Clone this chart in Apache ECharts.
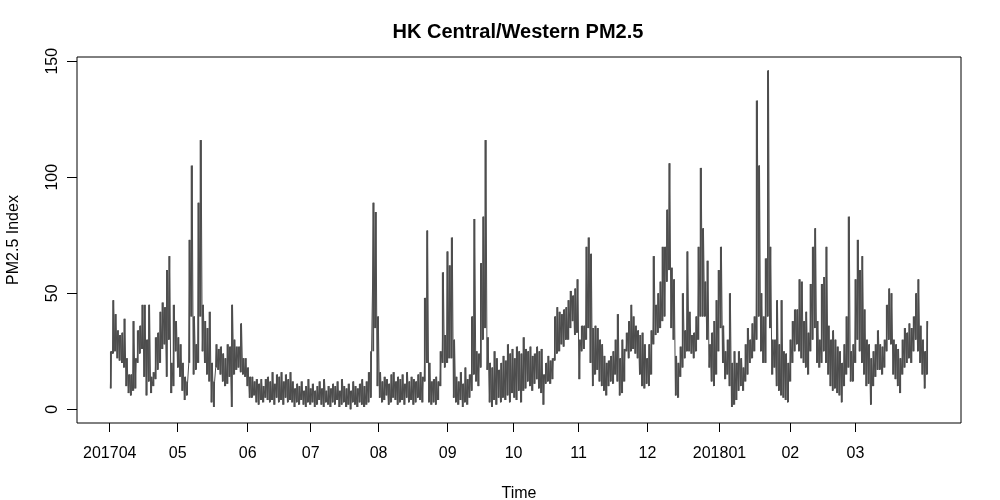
<!DOCTYPE html>
<html>
<head>
    <meta charset="utf-8">
    <title>index</title>
    <style>
        html, body { margin: 0; padding: 0; background: #fff; }
        #container { width: 1000px; height: 500px; }
    </style>
</head>
<body>
    <div id="container"></div>
</body>
<script src="https://cdn.jsdelivr.net/npm/echarts@6/dist/echarts.min.js"></script>
<script type="text/javascript">
    // month tick positions on the day axis (day 0 = 2017-04-01) and their labels
    var monthTicks = [0, 30.3, 61.5, 89.6, 119.9, 150.7, 180.1, 209.1, 239.8, 271.9, 303.5, 332.5];
    var monthLabels = ['201704', '05', '06', '07', '08', '09', '10', '11', '12', '201801', '02', '03'];
    var yTicks = [0, 50, 100, 150];

    // daily low / high of the hourly PM2.5 index
    var dailyLow = [
        9, 24, 25, 22, 21, 20, 18, 10, 7, 6,
        8, 9, 20, 24, 26, 14, 6, 12, 7, 10,
        13, 17, 20, 26, 28, 14, 30, 7, 10, 25,
        18, 14, 8, 4, 6, 20, 40, 15, 17, 20,
        40, 25, 20, 15, 12, 3, 1, 18, 17, 15,
        12, 10, 11, 14, 1, 15, 17, 18, 16, 15,
        14, 10, 5, 5, 6, 3, 2, 4, 3, 5,
        4, 3, 4, 2, 5, 3, 4, 2, 5, 3,
        4, 3, 1, 3, 2, 4, 2, 1, 3, 2,
        3, 1, 2, 4, 2, 1, 3, 2, 1, 3,
        2, 4, 1, 2, 3, 1, 2, 0, 3, 2,
        1, 3, 2, 1, 2, 3, 5, 25, 35, 10,
        5, 3, 4, 6, 2, 3, 5, 4, 2, 3,
        4, 2, 5, 3, 4, 2, 3, 5, 4, 3,
        12, 20, 3, 2, 3, 2, 4, 10, 20, 18,
        20, 22, 22, 5, 3, 2, 4, 1, 3, 2,
        5, 8, 15, 12, 10, 18, 30, 35, 17, 3,
        1, 4, 2, 5, 3, 5, 4, 6, 3, 7,
        5, 4, 8, 3, 8, 9, 12, 10, 8, 11,
        13, 9, 7, 2, 11, 12, 11, 13, 21, 24,
        25, 28, 27, 30, 30, 35, 38, 32, 33, 13,
        25, 26, 30, 35, 20, 10, 15, 17, 12, 10,
        8, 6, 10, 12, 11, 15, 12, 6, 7, 12,
        25, 22, 25, 26, 24, 22, 15, 10, 9, 11,
        10, 15, 28, 32, 33, 35, 38, 40, 55, 60,
        35, 30, 6, 5, 14, 18, 22, 25, 25, 24,
        22, 25, 30, 40, 40, 40, 30, 18, 12, 10,
        15, 25, 35, 20, 13, 15, 10, 1, 2, 4,
        8, 10, 8, 12, 15, 20, 22, 25, 30, 40,
        25, 20, 20, 40, 35, 15, 18, 10, 8, 6,
        5, 4, 3, 12, 20, 25, 28, 25, 22, 20,
        18, 15, 25, 30, 35, 20, 18, 20, 25, 20,
        15, 10, 8, 9, 7, 6, 3, 10, 15, 18,
        12, 12, 20, 30, 25, 20, 15, 10, 11, 2,
        10, 14, 17, 17, 15, 18, 25, 30, 28, 15,
        13, 10, 7, 15, 18, 20, 22, 20, 25, 30,
        25, 20, 15, 9, 15
    ];
    var dailyHigh = [
        25, 47, 41, 34, 32, 33, 39, 22, 15, 15,
        38, 22, 34, 36, 45, 45, 30, 45, 14, 16,
        31, 33, 42, 46, 44, 60, 66, 20, 45, 38,
        31, 28, 20, 14, 12, 73, 105, 40, 28, 89,
        116, 45, 38, 35, 42, 20, 12, 28, 26, 27,
        24, 22, 28, 27, 45, 30, 27, 27, 37, 22,
        22, 18, 14, 14, 12, 13, 11, 13, 10, 13,
        14, 12, 16, 11, 15, 14, 16, 12, 15, 13,
        16, 12, 9, 11, 10, 12, 8, 10, 13, 9,
        11, 8, 10, 12, 9, 13, 8, 10, 9, 11,
        10, 12, 8, 13, 10, 9, 11, 8, 12, 10,
        9, 11, 13, 10, 12, 16, 25, 89, 85, 40,
        16, 12, 14, 13, 11, 15, 16, 12, 14, 13,
        15, 11, 16, 12, 14, 13, 12, 15, 16, 14,
        48, 77, 20, 12, 13, 14, 12, 25, 59, 32,
        68, 62, 74, 30, 14, 12, 16, 11, 18, 13,
        15, 40, 82, 25, 24, 63, 83, 116, 31, 20,
        18, 25, 22, 17, 20, 23, 21, 28, 24, 26,
        22, 27, 25, 24, 31, 26, 25, 27, 23, 24,
        27, 25, 26, 15, 20, 23, 21, 22, 40, 44,
        42, 41, 43, 44, 47, 51, 49, 52, 56, 30,
        36, 36, 70, 74, 67, 35, 36, 35, 30, 28,
        23, 20, 21, 23, 25, 30, 41, 22, 30, 26,
        33, 38, 45, 40, 36, 34, 32, 33, 28, 22,
        28, 34, 66, 45, 50, 55, 70, 70, 86, 106,
        61, 56, 23, 20, 27, 50, 34, 68, 42, 32,
        33, 40, 70, 104, 78, 55, 64, 28, 33, 38,
        47, 60, 70, 36, 25, 30, 50, 20, 25, 20,
        25, 22, 18, 28, 35, 30, 37, 40, 133, 105,
        50, 40, 65, 146, 70, 30, 30, 47, 28, 47,
        25, 24, 20, 30, 38, 43, 43, 56, 55, 38,
        42, 33, 54, 70, 78, 38, 30, 54, 57, 70,
        36, 30, 34, 30, 27, 25, 20, 28, 40, 83,
        25, 28, 56, 73, 60, 66, 43, 30, 28, 22,
        25, 28, 34, 28, 27, 30, 45, 52, 50, 30,
        28, 26, 22, 30, 35, 33, 37, 35, 40, 50,
        56, 36, 30, 25, 38
    ];

    // zigzag line through each day's low and high, plus a low-high band per day
    var points = [], ranges = [];
    for (var d = 0; d < dailyLow.length; d++) {
        points.push([d + 0.25, dailyLow[d]]);
        points.push([d + 0.75, dailyHigh[d]]);
        ranges.push([d, dailyLow[d], dailyHigh[d]]);
    }

    var lineColor = '#4d4d4d';
    var font = 'Liberation Sans, Arial, sans-serif';
    var chart = echarts.init(document.getElementById('container'));
    var option = {
        animation: false,
        backgroundColor: '#fff',
        title: {
            text: 'HK Central/Western PM2.5',
            left: 513,
            top: 17,
            textAlign: 'center',
            textStyle: { fontFamily: font, fontSize: 20, fontWeight: 'bold', color: '#000' }
        },
        grid: {
            left: 77, right: 39, top: 57, bottom: 77,
            outerBoundsMode: 'none',
            containLabel: false,
            show: true, borderColor: '#000', borderWidth: 1
        },
        xAxis: {
            type: 'value',
            min: -14.6,
            max: 379.6,
            name: 'Time',
            nameLocation: 'middle',
            nameGap: 63,
            nameTextStyle: { fontFamily: font, fontSize: 16, color: '#000' },
            axisLine: { show: false, onZero: false },
            splitLine: { show: false },
            axisTick: { show: true, length: 9, customValues: monthTicks, lineStyle: { color: '#000' } },
            axisLabel: {
                customValues: monthTicks,
                margin: 23,
                fontFamily: font, fontSize: 16, color: '#000',
                formatter: function (v) {
                    var i = monthTicks.indexOf(v);
                    return i >= 0 ? monthLabels[i] : '';
                }
            }
        },
        yAxis: {
            type: 'value',
            min: -5.9,
            max: 151.8,
            name: 'PM2.5 Index',
            nameLocation: 'middle',
            nameGap: 55,
            nameTextStyle: { fontFamily: font, fontSize: 16, color: '#000' },
            axisLine: { show: false, onZero: false },
            splitLine: { show: false },
            axisTick: { show: true, length: 10, customValues: yTicks, lineStyle: { color: '#000' } },
            axisLabel: {
                customValues: yTicks,
                rotate: 90,
                margin: 16,
                fontFamily: font, fontSize: 16, color: '#000'
            }
        },
        series: [{
            type: 'custom',
            data: ranges,
            clip: true,
            renderItem: function (params, api) {
                var a = api.coord([api.value(0) + 0.1, api.value(1)]);
                var b = api.coord([api.value(0) + 0.9, api.value(2)]);
                return {
                    type: 'rect',
                    shape: { x: a[0], y: b[1], width: b[0] - a[0], height: a[1] - b[1] },
                    style: { fill: lineColor }
                };
            }
        }, {
            type: 'line',
            data: points,
            showSymbol: false,
            sampling: null,
            clip: true,
            lineStyle: { color: lineColor, width: 1 }
        }]
    };
    chart.setOption(option);
</script>
</html>
